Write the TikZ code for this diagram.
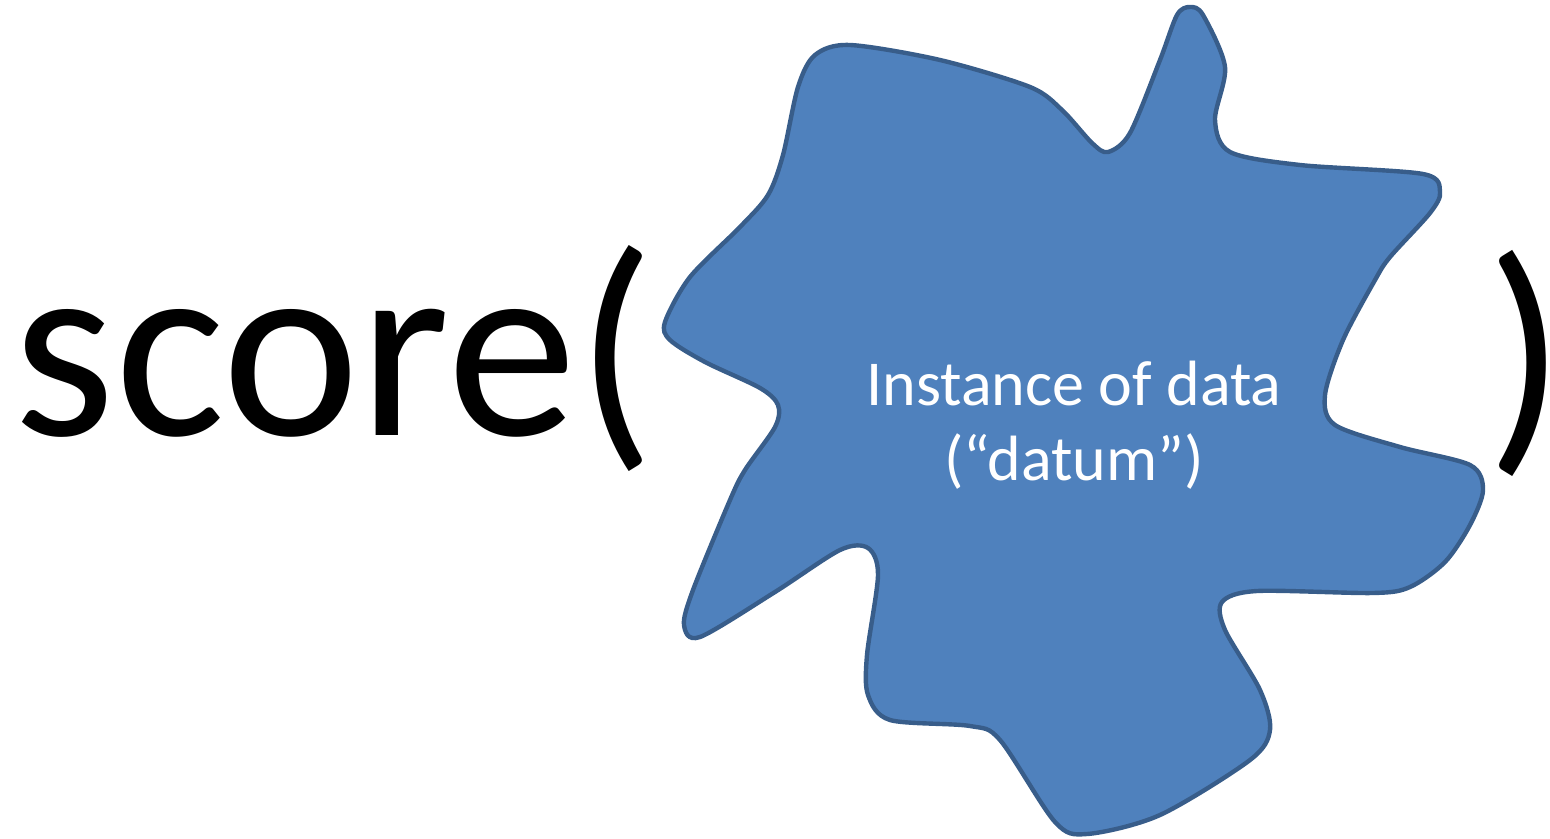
\documentclass[tikz,border=0pt]{standalone}
\usepackage{fontspec}
\setmainfont{Carlito}
\usepackage{tikz}
\usetikzlibrary{positioning}
\definecolor{blobfill}{HTML}{4F81BD}
\definecolor{blobline}{HTML}{385D8A}

\begin{document}
\begin{tikzpicture}[x=0.5pt,y=-0.5pt]
\tikzstyle{blob}=[fill=blobfill, draw=blobline, line width=2.2pt, line join=round]
\tikzstyle{big}=[inner sep=0pt, font=\fontsize{130}{130}\selectfont]
\tikzstyle{inner}=[inner sep=0pt, text=white, align=center, font=\fontsize{32}{37.5}\selectfont]
\useasboundingbox (0,0) rectangle (1550,839);
	% the datum
	\draw[blob] plot[smooth cycle, tension=0.5] coordinates {
		(665,322) (690,277) (740,227) (768,195) (783,155) (798,87) (815,55)
		(850,45) (940,60) (1030,87) (1062,110) (1092,143) (1108,152) (1130,133)
		(1160,60) (1177,15) (1190,7) (1203,15) (1225,67) (1215,120) (1230,152)
		(1300,165) (1423,174) (1440,192) (1430,213) (1390,257) (1375,280)
		(1343,340) (1325,395) (1335,425) (1400,447) (1470,465) (1483,490)
		(1470,525) (1445,562) (1410,587) (1373,593) (1257,591) (1222,602)
		(1225,630) (1260,690) (1270,730) (1250,760) (1160,815) (1087,834)
		(1055,822) (1000,740) (970,726) (890,720) (868,695) (867,655) (878,575)
		(868,548) (840,550) (775,592) (700,637) (684,625) (693,590) (730,500)
		(745,470) (775,427) (778,405) (760,388) (705,362) (670,340)};

	\node[big, anchor=base west] (score) at (13,435) {score(};
	\node[big, anchor=base west] (close) at (1486,440) {)};
	\node[inner, anchor=base] (datum) at (1074,480) {Instance of data\\(“datum”)};
\end{tikzpicture}
\end{document}
